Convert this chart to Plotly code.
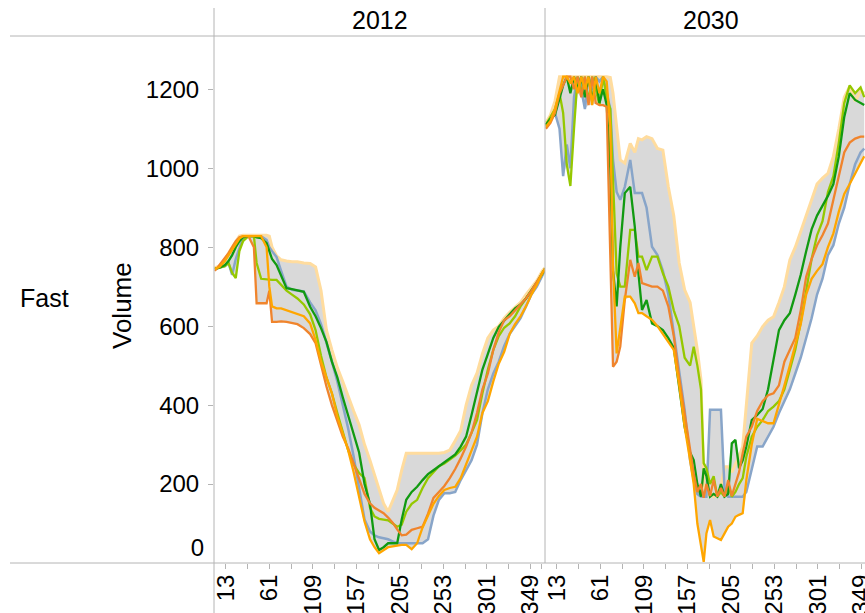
import numpy as np
import plotly.graph_objects as go

W, H = 865, 613

# ---------------- data: 2012 ----------------
days_2012 = [1, 6, 12, 16, 20, 24, 28, 32, 38, 44, 47, 52, 58, 61, 64, 69, 74, 80, 86, 92,
             99, 106, 112, 118, 124, 130, 136, 142, 148, 154, 160, 166, 172, 177, 182, 187,
             192, 197, 202, 207, 212, 218, 224, 230, 236, 242, 248, 254, 260, 266, 272, 278,
             284, 290, 296, 302, 308, 314, 320, 326, 332, 338, 344, 350, 356, 362, 365]

bluegray_2012 = [745, 748, 752, 760, 730, 770, 800, 825, 828, 828, 828, 828, 818, 800, 790, 775,
                 740, 700, 692, 690, 688, 660, 640, 605, 560, 510, 460, 400, 340, 270, 190, 110,
                 80, 70, 65, 62, 60, 55, 50, 50, 50, 50, 50, 50, 60, 120, 160, 177, 177, 180, 210,
                 235, 260, 300, 380, 440, 480, 510, 550, 580, 600, 620, 650, 680, 700, 730, 742]
darkgreen_2012 = [745, 748, 755, 765, 780, 800, 815, 825, 828, 828, 825, 823, 810, 790, 770, 755,
                  730, 696, 694, 690, 687, 649, 625, 595, 560, 510, 470, 420, 375, 330, 280, 200,
                  150, 60, 33, 40, 50, 50, 50, 110, 160, 180, 193, 210, 225, 235, 245, 255, 265,
                  275, 295, 320, 375, 430, 490, 530, 570, 598, 615, 630, 645, 655, 670, 690, 710,
                  735, 745]
lightgreen_2012 = [745, 748, 752, 760, 735, 722, 790, 815, 828, 828, 760, 720, 718, 717, 717, 717,
                   705, 690, 680, 670, 655, 630, 590, 525, 470, 430, 380, 330, 285, 250, 228, 215,
                   140, 118, 112, 110, 108, 100, 92, 97, 130, 150, 160, 190, 215, 230, 245, 252,
                   261, 272, 285, 300, 330, 362, 430, 490, 540, 575, 596, 607, 625, 650, 670, 690,
                   710, 732, 745]
orange_2012 = [745, 750, 765, 780, 795, 810, 822, 828, 828, 828, 828, 828, 800, 700, 650, 645,
               645, 640, 634, 630, 625, 607, 565, 510, 470, 430, 371, 330, 285, 230, 170, 105,
               60, 40, 25, 32, 40, 42, 44, 46, 46, 35, 50, 90, 120, 150, 170, 185, 190, 193, 215,
               250, 285, 320, 380, 410, 460, 505, 535, 580, 605, 625, 650, 680, 705, 735, 745]
darkorange_2012 = [740, 755, 770, 785, 800, 815, 825, 828, 828, 800, 658, 658, 658, 690, 611, 611,
                   612, 611, 608, 605, 595, 580, 557, 500, 447, 400, 360, 320, 290, 250, 210, 175,
                   151, 140, 133, 126, 115, 102, 85, 70, 72, 84, 88, 92, 125, 165, 180, 195, 215,
                   238, 265, 295, 330, 380, 440, 480, 540, 585, 615, 625, 640, 655, 670, 690, 712,
                   735, 745]
peach_2012 = [748, 752, 765, 785, 800, 815, 828, 830, 830, 830, 830, 830, 830, 828, 800, 778,
              768, 765, 763, 763, 760, 759, 750, 690, 590, 540, 495, 460, 420, 385, 350, 300,
              260, 225, 190, 151, 130, 160, 185, 235, 278, 278, 278, 278, 278, 278, 278, 280,
              286, 310, 335, 400, 450, 481, 530, 570, 590, 600, 620, 635, 648, 660, 680, 698,
              715, 740, 748]

# ---------------- data: 2030 ----------------
days_2030 = [1, 6, 11, 16, 20, 24, 28, 32, 36, 40, 44, 48, 52, 56, 60, 64, 68, 72, 75, 79, 83,
             88, 94, 99, 103, 107, 112, 118, 124, 130, 136, 142, 148, 154, 160, 164, 168, 172,
             175, 178, 182, 186, 190, 194, 198, 202, 206, 210, 214, 218, 222, 228, 234, 240,
             246, 252, 258, 264, 270, 276, 282, 288, 294, 300, 306, 312, 318, 324, 330, 336,
             342, 348, 352]

bluegray_2030 = [1105, 1120, 1140, 1100, 980, 1060, 1000, 1180, 1232, 1200, 1150, 1232, 1200,
                 1232, 1220, 1232, 1190, 1150, 1021, 940, 920, 953, 1021, 937, 937, 937, 900, 801,
                 780, 740, 680, 580, 480, 388, 260, 210, 175, 168, 168, 168, 388, 388, 388, 388,
                 185, 168, 168, 168, 168, 168, 180, 240, 295, 295, 320, 345, 380, 410, 440, 480,
                 520, 570, 620, 680, 720, 780, 805, 860, 900, 960, 1010, 1040, 1050]
darkgreen_2030 = [1110, 1125, 1135, 1180, 1210, 1232, 1190, 1232, 1200, 1232, 1180, 1232, 1170,
                  1232, 1165, 1200, 1160, 1000, 740, 650, 800, 937, 953, 852, 734, 641, 666, 607,
                  600, 590, 570, 545, 450, 345, 280, 261, 200, 168, 240, 220, 168, 175, 168, 200,
                  168, 175, 303, 312, 240, 260, 295, 362, 375, 390, 440, 520, 590, 615, 633, 680,
                  730, 790, 845, 880, 905, 930, 960, 1030, 1130, 1190, 1173, 1165, 1160]
lightgreen_2030 = [1110, 1130, 1150, 1190, 1140, 1010, 955, 1100, 1232, 1190, 1232, 1170, 1232,
                   1200, 1160, 1232, 1180, 1150, 950, 734, 700, 700, 844, 844, 776, 776, 742, 776,
                   776, 734, 700, 640, 600, 520, 500, 548, 500, 440, 253, 240, 200, 220, 168, 180,
                   168, 200, 168, 180, 200, 215, 269, 320, 345, 362, 385, 396, 410, 440, 490, 540,
                   610, 690, 770, 830, 866, 940, 980, 1065, 1165, 1210, 1190, 1205, 1180]
orange_2030 = [1105, 1120, 1150, 1200, 1232, 1232, 1215, 1232, 1190, 1232, 1200, 1232, 1160,
               1232, 1190, 1232, 1220, 1105, 750, 531, 600, 675, 675, 658, 633, 633, 625, 616,
               600, 580, 560, 540, 450, 345, 260, 200, 100, 40, 3, 75, 109, 67, 62, 58, 75, 92,
               100, 117, 122, 126, 210, 300, 365, 360, 354, 354, 400, 450, 500, 550, 605, 680,
               720, 740, 757, 800, 835, 890, 935, 960, 985, 1010, 1030]
darkorange_2030 = [1100, 1115, 1140, 1190, 1210, 1232, 1232, 1200, 1232, 1180, 1232, 1160, 1232,
                   1165, 1160, 1160, 1156, 800, 497, 510, 548, 666, 768, 725, 760, 709, 705, 700,
                   700, 690, 650, 575, 470, 380, 290, 227, 180, 200, 165, 200, 170, 210, 168, 190,
                   168, 210, 170, 200, 230, 278, 320, 345, 385, 410, 425, 430, 450, 510, 540, 570,
                   640, 725, 770, 805, 830, 860, 920, 980, 1040, 1065, 1075, 1080, 1080]
peach_2030 = [1115, 1135, 1170, 1232, 1232, 1232, 1232, 1232, 1232, 1232, 1232, 1232, 1232, 1232,
              1232, 1232, 1232, 1230, 1190, 1105, 1021, 1013, 1063, 1040, 1075, 1072, 1080, 1075,
              1050, 1046, 953, 880, 760, 692, 660, 600, 540, 464, 210, 170, 180, 168, 175, 193,
              244, 244, 230, 250, 270, 295, 400, 557, 575, 599, 615, 624, 660, 700, 768, 800,
              840, 880, 920, 960, 975, 987, 1030, 1100, 1180, 1207, 1170, 1195, 1190]

year_labels = ["2012", "2030"]
row_label = "Fast"
y_title = "Volume"
y_ticks = [200, 400, 600, 800, 1000, 1200]
x_ticks = [13, 61, 109, 157, 205, 253, 301, 349]
x_minor = [37, 85, 133, 181, 229, 277, 325, 361]

# ---------------- styling ----------------
series_style = [  # (name, color, width) drawing order
    ("peach", "#ffdc9e", 3.0),
    ("bluegray", "#88a5c9", 2.5),
    ("lightgreen", "#95c800", 2.3),
    ("darkgreen", "#119a11", 2.3),
    ("darkorange", "#f0842c", 2.3),
    ("orange", "#ffa600", 2.3),
]
panels = [
    (days_2012, dict(bluegray=bluegray_2012, darkgreen=darkgreen_2012, lightgreen=lightgreen_2012,
                     orange=orange_2012, darkorange=darkorange_2012, peach=peach_2012)),
    (days_2030, dict(bluegray=bluegray_2030, darkgreen=darkgreen_2030, lightgreen=lightgreen_2030,
                     orange=orange_2030, darkorange=darkorange_2030, peach=peach_2030)),
]

fig = go.Figure()
for i, (days, ser) in enumerate(panels):
    xa = "x" if i == 0 else "x2"
    ya = "y" if i == 0 else "y2"
    stack = np.vstack([np.array(v, dtype=float) for v in ser.values()])
    lo = stack.min(axis=0)
    hi = stack.max(axis=0)
    fig.add_trace(go.Scatter(x=days, y=lo, mode="lines", line=dict(width=0, color="#d9d9d9"),
                             xaxis=xa, yaxis=ya, showlegend=False, hoverinfo="skip"))
    fig.add_trace(go.Scatter(x=days, y=hi, mode="lines", line=dict(width=0, color="#d9d9d9"),
                             fill="tonexty", fillcolor="#d9d9d9",
                             xaxis=xa, yaxis=ya, showlegend=False, hoverinfo="skip"))
    for name, color, width in series_style:
        fig.add_trace(go.Scatter(x=days, y=ser[name], mode="lines", name=name,
                                 line=dict(color=color, width=width),
                                 xaxis=xa, yaxis=ya, showlegend=False))

# dummy trace for the shifted "0" label axis
fig.add_trace(go.Scatter(x=[None], y=[None], xaxis="x", yaxis="y3", showlegend=False))

x0p, xmid, x1p = 214 / W, 545 / W, 1.0
ybot, ytop = (H - 563) / H, (H - 36) / H
px_per_day = 331 / 365.0
grey = "#b4b4b4"
font = dict(family="Liberation Sans, Arial, sans-serif", size=24, color="#000000")
title_font = dict(family="Liberation Sans, Arial, sans-serif", size=25, color="#000000")

xaxis_common = dict(showgrid=False, zeroline=False, showline=False, automargin=False,
                    tickvals=x_ticks, ticktext=[str(t) for t in x_ticks],
                    ticks="outside", ticklen=5, tickcolor=grey, tickwidth=1,
                    tickangle=-90, tickfont=font, ticklabelstandoff=-4,
                    ticklabeloverflow="allow",
                    minor=dict(tickvals=x_minor, ticks="outside", ticklen=5,
                               tickcolor=grey, tickwidth=1, showgrid=False))
fig.update_layout(
    width=W, height=H, margin=dict(l=0, r=0, t=0, b=0, autoexpand=False),
    paper_bgcolor="white", plot_bgcolor="white", font=font, showlegend=False,
    xaxis=dict(domain=[x0p, xmid], range=[0, 365], **xaxis_common),
    xaxis2=dict(domain=[xmid, x1p], range=[0, (865 - 545) / px_per_day], **xaxis_common),
    yaxis=dict(domain=[ybot, ytop], range=[0, 1335], showgrid=False, zeroline=False,
               showline=False, automargin=False, tickvals=y_ticks,
               ticktext=[str(t) for t in y_ticks], ticklabelstandoff=4,
               ticks="outside", ticklen=5, tickcolor=grey, tickfont=font),
    yaxis2=dict(domain=[ybot, ytop], range=[0, 1335], anchor="x2", showgrid=False,
                automargin=False, zeroline=False, showline=False, showticklabels=False,
                ticks=""),
    yaxis3=dict(domain=[ybot, ytop], range=[0, 1335], overlaying="y", anchor="x",
                side="left", showgrid=False, zeroline=False, showline=False, automargin=False,
                tickvals=[0], ticktext=["0"], ticks="", ticklabelshift=-15,
                ticklabelstandoff=9, tickfont=font),
)

line = dict(color=grey, width=1)
fig.add_shape(type="line", xref="paper", yref="paper", x0=x0p, x1=x0p, y0=0, y1=(H - 8) / H, line=line)
fig.add_shape(type="line", xref="paper", yref="paper", x0=xmid, x1=xmid, y0=ybot, y1=(H - 8) / H, line=line)
fig.add_shape(type="line", xref="paper", yref="paper", x0=10 / W, x1=1, y0=ytop, y1=ytop, line=line)
fig.add_shape(type="line", xref="paper", yref="paper", x0=10 / W, x1=1, y0=ybot, y1=ybot, line=line)

fig.add_annotation(text=year_labels[0], xref="paper", yref="paper", x=379.5 / W, y=(H - 20) / H,
                   showarrow=False, font=title_font, xanchor="center", yanchor="middle")
fig.add_annotation(text=year_labels[1], xref="paper", yref="paper", x=710.5 / W, y=(H - 20) / H,
                   showarrow=False, font=title_font, xanchor="center", yanchor="middle")
fig.add_annotation(text=row_label, xref="paper", yref="paper", x=44 / W, y=(H - 298) / H,
                   showarrow=False, font=title_font, xanchor="center", yanchor="middle")
fig.add_annotation(text=y_title, xref="paper", yref="paper", x=122 / W, y=(H - 306) / H,
                   showarrow=False, font=dict(family="Liberation Sans, Arial, sans-serif",
                                              size=26, color="#000000"),
                   textangle=-90, xanchor="center", yanchor="middle")

fig.write_html("out.html")
